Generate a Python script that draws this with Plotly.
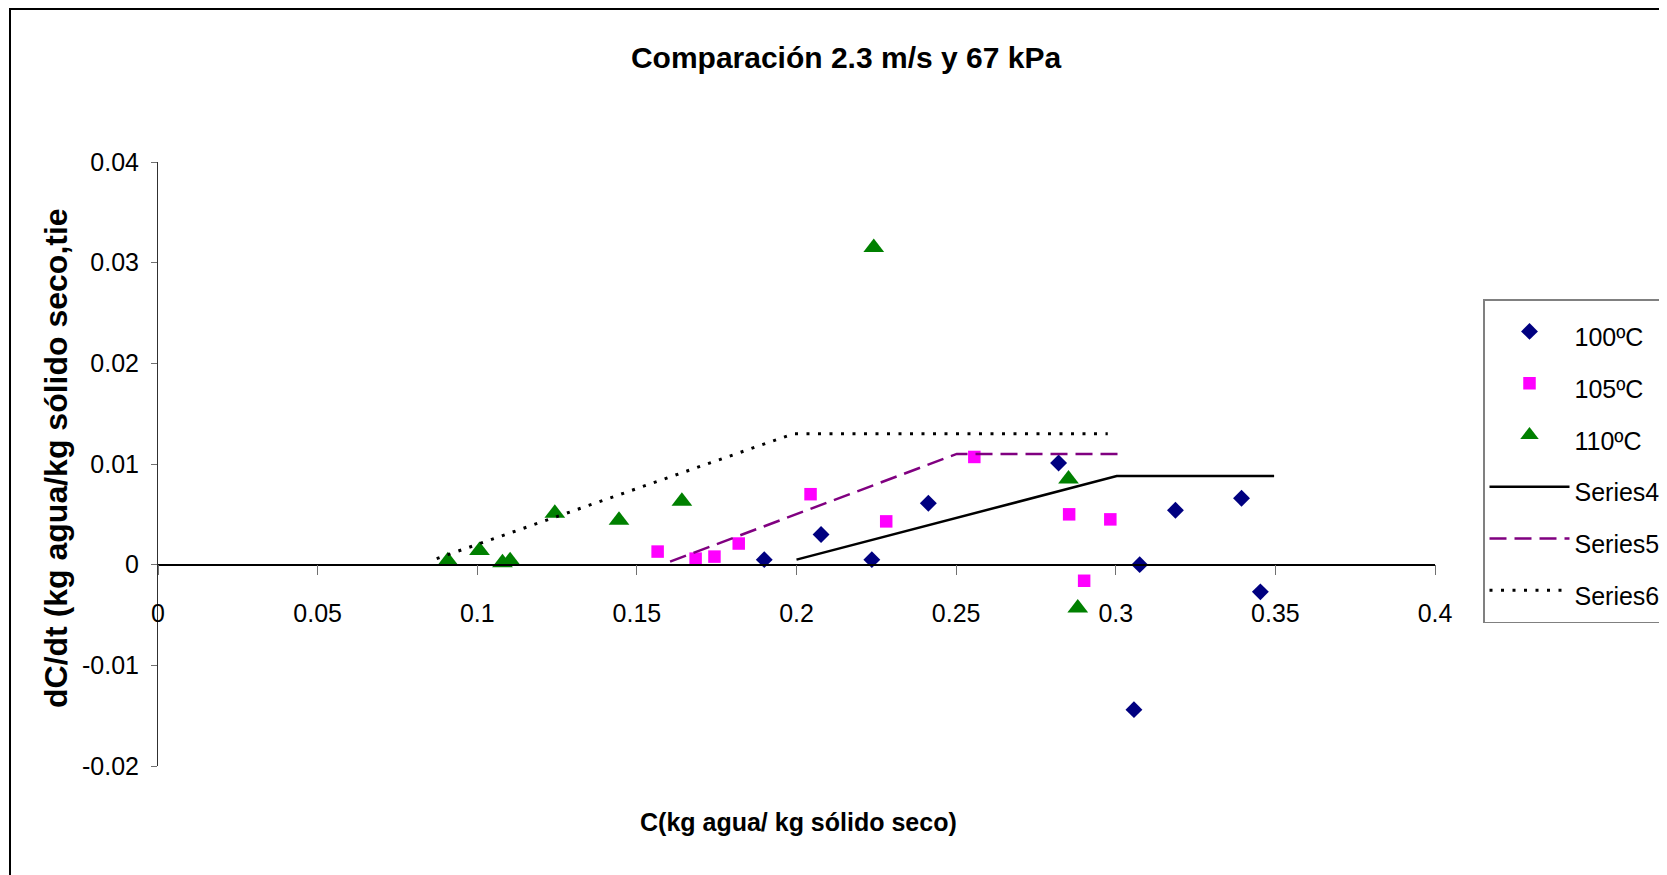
import plotly.graph_objects as go

# ---------------- data ----------------
x_100 = [0.1899, 0.2077, 0.2236, 0.2413, 0.2821, 0.3057, 0.3075, 0.3187, 0.3394, 0.3453]
y_100 = [0.0005, 0.0030, 0.0005, 0.0061, 0.0101, -0.0144, 0.0000, 0.0054, 0.0066, -0.0027]

x_105 = [0.1565, 0.1684, 0.1743, 0.1819, 0.2044, 0.2281, 0.2557, 0.2854, 0.2901, 0.2983]
y_105 = [0.0013, 0.0006, 0.0008, 0.0021, 0.0070, 0.0043, 0.0107, 0.0050, -0.0016, 0.0045]

x_110 = [0.0908, 0.1007, 0.1079, 0.1103, 0.1243, 0.1444, 0.1641, 0.2242, 0.2852, 0.2881]
y_110 = [0.0004, 0.0014, 0.0002, 0.0004, 0.0051, 0.0044, 0.0063, 0.0315, 0.0085, -0.0043]

x_s4 = [0.2000, 0.3003, 0.3496]
y_s4 = [0.0005, 0.0088, 0.0088]

x_s5 = [0.1604, 0.2502, 0.3006]
y_s5 = [0.0003, 0.0110, 0.0110]

x_s6 = [0.0873, 0.1990, 0.2975]
y_s6 = [0.0006, 0.0130, 0.0130]

x_ticks = [0, 0.05, 0.1, 0.15, 0.2, 0.25, 0.3, 0.35, 0.4]
x_ticklabels = ["0", "0.05", "0.1", "0.15", "0.2", "0.25", "0.3", "0.35", "0.4"]
y_ticks = [-0.02, -0.01, 0, 0.01, 0.02, 0.03, 0.04]
y_ticklabels = ["-0.02", "-0.01", "0", "0.01", "0.02", "0.03", "0.04"]

x_range = [0, 0.4]
y_range = [-0.02, 0.04]

names = ["100ºC", "105ºC", "110ºC", "Series4", "Series5", "Series6"]

# ---------------- layout geometry (page pixels) ----------------
OFF = 8                      # default body margin of the html page
PAGE_W, PAGE_H = 1667, 875
W, H = PAGE_W - OFF, PAGE_H - OFF
PL, PR, PT, PB = 158 - OFF, 1435 - OFF, 162 - OFF, 766 - OFF
pw, ph = PR - PL, PB - PT


def px2paper_x(px):          # px given in page coordinates
    return (px - OFF - PL) / pw


def px2paper_y(py):
    return (PB - (py - OFF)) / ph


SANS = "Liberation Sans, Arial, sans-serif"


def leg(t):
    return "<span style='font-size:25px'>" + t + "</span>"


fig = go.Figure()
fig.add_trace(go.Scatter(x=x_100, y=y_100, mode="markers", name=leg(names[0]),
                         marker=dict(symbol="diamond", size=13, color="#000080",
                                     line=dict(width=0))))
fig.add_trace(go.Scatter(x=x_105, y=y_105, mode="markers", name=leg(names[1]),
                         marker=dict(symbol="square", size=12.5, color="#FF00FF",
                                     line=dict(width=0))))
fig.add_trace(go.Scatter(x=x_110, y=y_110, mode="markers", name=leg(names[2]),
                         marker=dict(symbol="triangle-up", size=18, color="#008000",
                                     line=dict(width=0))))
fig.add_trace(go.Scatter(x=x_s4, y=y_s4, mode="lines", name=leg(names[3]),
                         line=dict(color="#000000", width=2.5)))
fig.add_trace(go.Scatter(x=x_s5, y=y_s5, mode="lines", name=leg(names[4]),
                         line=dict(color="#800080", width=2.5, dash="17px,8px")))
fig.add_trace(go.Scatter(x=x_s6, y=y_s6, mode="lines", name=leg(names[5]),
                         line=dict(color="#000000", width=3, dash="3px,8.5px")))

zero_pos = (0 - y_range[0]) / (y_range[1] - y_range[0])

fig.update_layout(
    width=W, height=H,
    margin=dict(l=PL, r=W - PR, t=PT, b=H - PB, pad=0, autoexpand=False),
    paper_bgcolor="white", plot_bgcolor="white",
    font=dict(family=SANS, color="black"),
    title=dict(text="<b>Comparación 2.3 m/s y 67 kPa</b>",
               font=dict(family=SANS, size=30, color="black"),
               x=px2paper_x(846), xref="paper", xanchor="center",
               y=1 - (57 - OFF) / H, yref="container", yanchor="middle"),
    xaxis=dict(range=x_range, tickvals=x_ticks, ticktext=x_ticklabels,
               anchor="free", position=zero_pos,
               showline=True, linecolor="black", linewidth=1.5,
               ticks="outside", ticklen=10, tickcolor="#707070", tickwidth=1,
               ticklabelstandoff=17,
               showgrid=False, zeroline=False,
               tickfont=dict(family=SANS, size=25, color="black")),
    yaxis=dict(range=y_range, tickvals=y_ticks, ticktext=y_ticklabels,
               showline=True, linecolor="#303030", linewidth=1,
               ticks="outside", ticklen=6, tickcolor="#707070", tickwidth=1,
               ticklabelstandoff=7,
               showgrid=False, zeroline=False,
               tickfont=dict(family=SANS, size=25, color="black")),
    legend=dict(x=px2paper_x(1483), y=px2paper_y(299), xanchor="left", yanchor="top",
                xref="paper", yref="paper",
                bordercolor="#808080", borderwidth=1.5, bgcolor="white",
                font=dict(family=SANS, size=37.5, color="black"),
                itemwidth=80, tracegroupgap=0),
    showlegend=True,
)

fig.add_annotation(text="<b>C(kg agua/ kg sólido seco)</b>", xref="paper", yref="paper",
                   x=px2paper_x(798), y=px2paper_y(822), xanchor="center", yanchor="middle",
                   showarrow=False, font=dict(family=SANS, size=25, color="black"))
fig.add_annotation(text="<b>dC/dt (kg agua/kg sólido seco,tie</b>", xref="paper", yref="paper",
                   x=px2paper_x(56), y=px2paper_y(458), xanchor="center", yanchor="middle",
                   textangle=-90, showarrow=False,
                   font=dict(family=SANS, size=32, color="black"))

# outer chart border (top edge kept just inside the figure)
fig.add_shape(type="rect", xref="paper", yref="paper",
              x0=px2paper_x(10), x1=px2paper_x(1663), y0=px2paper_y(900), y1=px2paper_y(OFF + 1),
              line=dict(color="black", width=2), fillcolor="rgba(0,0,0,0)", layer="below")

fig.write_html("out.html")
